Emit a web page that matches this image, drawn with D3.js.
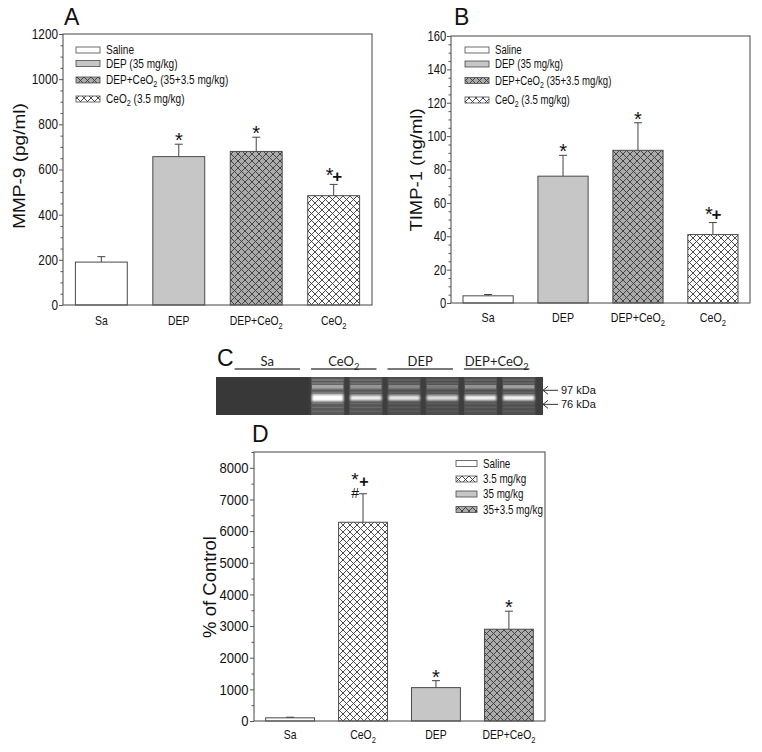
<!DOCTYPE html>
<html><head><meta charset="utf-8">
<script src="https://cdn.jsdelivr.net/npm/d3@7"></script>
<style>body{margin:0;background:#fff} svg{display:block}</style>
</head><body><svg id="c" width="762" height="752"></svg>
<script>
// ---------- data ----------
const groupsAB = ["Sa","DEP","DEP+CeO2","CeO2"];
const mmp9 = [190, 657, 680, 484];
const mmp9Err = [24, 55, 63, 50];
const mmp9Marks = ["", "*", "*", "*+"];
const mmp9Ticks = [0,200,400,600,800,1000,1200];

const timp1 = [4.3, 76, 91.5, 41];
const timp1Err = [0.8, 12.5, 16.5, 7.2];
const timp1Marks = ["", "*", "*", "*+"];
const timp1Ticks = [0,20,40,60,80,100,120,140,160];

const groupsD = ["Sa","CeO2","DEP","DEP+CeO2"];
const pctControl = [100, 6280, 1055, 2900];
const pctErr = [20, 900, 220, 570];
const pctMarks = ["", "*+#", "*", "*"];
const pctTicks = [0,1000,2000,3000,4000,5000,6000,7000,8000];

const legendAB = ["Saline","DEP (35 mg/kg)","DEP+CeO2 (35+3.5 mg/kg)","CeO2 (3.5 mg/kg)"];
const legendABKeys = ["Sa","DEP","DEP+CeO2","CeO2"];
const legendD = ["Saline","3.5 mg/kg","35 mg/kg","35+3.5 mg/kg"];
const legendDKeys = ["Sa","CeO2","DEP","DEP+CeO2"];

// zymography gel (panel C)
const gelLanes = ["Sa-1","Sa-2","CeO2-1","CeO2-2","DEP-1","DEP-2","DEP+CeO2-1","DEP+CeO2-2"];
const gelGroups = ["Sa","CeO2","DEP","DEP+CeO2"];
const laneGlow = [0, 0, 0.55, 0.45, 0.33, 0.30, 0.36, 0.36];
const band97 = [0, 0, 0.5, 0.4, 0.35, 0.28, 0.42, 0.5];
const band76 = [0, 0, 1.0, 0.92, 0.88, 0.82, 0.95, 0.95];
const smearRows = [0.08, 0.16, 0.22, 0.32, 0.40, 0.46, 0.70, 0.80, 0.90];
const markerLabels = ["97 kDa","76 kDa"];
const markerMig = [0.35, 0.72];

// ---------- drawing ----------
const svg = d3.select("#c");
const FONT = "'Liberation Sans',Arial,sans-serif";
const defs = svg.append("defs");
function hatch(id, bg){
  const p = defs.append("pattern").attr("id", id).attr("patternUnits","userSpaceOnUse")
    .attr("width", 7).attr("height", 7);
  p.append("rect").attr("width",7).attr("height",7).attr("fill",bg);
  p.append("path").attr("d","M0,0L7,7M-1,6L1,8M6,-1L8,1M0,7L7,0M-1,1L1,-1M6,8L8,6")
    .attr("stroke","#3a3a3a").attr("stroke-width",0.9).attr("fill","none");
}
hatch("hWhite", "#ffffff");
hatch("hGray", "#ababab");
const fills = {"Sa":"#ffffff","DEP":"#c6c6c6","DEP+CeO2":"url(#hGray)","CeO2":"url(#hWhite)"};
defs.append("filter").attr("id","blur").attr("x","-20%").attr("y","-200%").attr("width","140%").attr("height","500%")
  .append("feGaussianBlur").attr("stdDeviation",0.9);
defs.append("filter").attr("id","blur2").attr("x","-20%").attr("y","-200%").attr("width","140%").attr("height","500%")
  .append("feGaussianBlur").attr("stdDeviation",0.5);

function rich(t, s, fs){
  t.text(null);
  const parts = s.split("O2");
  parts.forEach((p,i)=>{
    if(i>0){
      t.append("tspan").text("O");
      t.append("tspan").attr("font-size", fs*0.72).attr("dy", fs*0.28).text("2");
      if(p.length) t.append("tspan").attr("dy", -fs*0.28).text(p);
    } else if(p.length){
      t.append("tspan").text(p);
    }
  });
}
// squeezed text (the figure panels are compressed horizontally)
function stext(parent, x, y, str, fs, sx, anchor, family){
  const g = parent.append("g").attr("transform",`translate(${x},${y}) scale(${sx},1)`);
  const t = g.append("text").attr("x",0).attr("y",0).attr("text-anchor",anchor||"start")
    .attr("font-family",family||FONT).attr("font-size",fs).attr("fill","#111");
  rich(t, str, fs);
  return t;
}

function panel(o){
  const g = svg.append("g");
  const x = d3.scaleBand().domain(o.groups).range([o.x0, o.x1]).paddingInner(0.33).paddingOuter(0.16);
  const y = d3.scaleLinear().domain([0, o.ymax]).range([o.y1, o.y0]);
  const minor = d3.range(0, o.ymax + 1e-9, o.minor).filter(v => !o.ticks.includes(v));
  g.append("g").attr("transform",`translate(${o.x0},0)`)
    .call(d3.axisLeft(y).tickValues(minor).tickSize(2.5).tickFormat(""))
    .call(a=>{a.select(".domain").remove(); a.selectAll("text").remove(); a.selectAll("line").attr("stroke","#555");});
  g.append("g").attr("transform",`translate(${o.x0},0)`)
    .call(d3.axisLeft(y).tickValues(o.ticks).tickSize(4).tickPadding(2).tickFormat(d3.format("d")))
    .call(a=>{a.select(".domain").remove(); a.selectAll("line").attr("stroke","#555");
      a.selectAll("text").attr("font-family",FONT).attr("font-size",o.tickFs).attr("fill","#111")
        .attr("transform",`scale(${o.tickSx},1)`);});
  // bars
  g.selectAll("rect.bar").data(o.groups).join("rect").attr("class","bar")
    .attr("x", d=>x(d)).attr("width", x.bandwidth())
    .attr("y", (d,i)=>y(o.values[i])).attr("height",(d,i)=>y(0)-y(o.values[i]))
    .attr("fill", d=>fills[d]).attr("stroke","#4a4a4a").attr("stroke-width",1);
  // error bars + significance marks
  o.groups.forEach((d,i)=>{
    const cx = x(d) + x.bandwidth()/2;
    const top = y(o.values[i] + o.errs[i]);
    g.append("line").attr("x1",cx).attr("x2",cx).attr("y1",y(o.values[i])).attr("y2",top)
      .attr("stroke","#444").attr("stroke-width",1);
    g.append("line").attr("x1",cx-4).attr("x2",cx+4).attr("y1",top).attr("y2",top)
      .attr("stroke","#444").attr("stroke-width",1);
    const m = o.marks[i];
    const addT = (txt, dx, dy, fs, w) => g.append("text").attr("x",cx+dx).attr("y",top+dy)
      .attr("text-anchor","middle").attr("font-family",FONT).attr("font-size",fs)
      .attr("font-weight",w||"normal").attr("fill","#111").text(txt);
    if(m === "*") addT("*", 0, 3, 20);
    else if(m === "*+"){ addT("*", -4, -2, 20); addT("+", 3.5, -2.5, 17, "bold"); }
    else if(m === "*+#"){ addT("*", -8, -8, 19); addT("+", 1, -7, 16, "bold"); addT("#", -8, 4.5, 14); }
  });
  // frame
  g.append("rect").attr("x",o.x0).attr("y",o.y0).attr("width",o.x1-o.x0).attr("height",o.y1-o.y0)
    .attr("fill","none").attr("stroke","#555").attr("stroke-width",1.1);
  // x labels
  o.groups.forEach(d=>{
    stext(g, x(d)+x.bandwidth()/2, o.y1 + o.xlabDy, d, o.xFs, o.xSx, "middle");
  });
  // y title
  g.append("text").attr("transform",`translate(${o.titleX},${o.titleY}) scale(${o.titleSx},1) rotate(-90)`)
    .attr("text-anchor","middle").attr("font-family",FONT).attr("font-size",o.titleFs).attr("fill","#111")
    .text(o.title);
  // letter
  g.append("text").attr("x",o.letterX).attr("y",o.letterY).attr("font-family",FONT)
    .attr("font-size",23).attr("fill","#111").text(o.letter);
  // legend
  o.legend.forEach((lab,i)=>{
    const ly = o.legY[i];
    g.append("rect").attr("x",o.legX).attr("y",ly-3).attr("width",o.legW).attr("height",6)
      .attr("fill",fills[o.legKeys[i]]).attr("stroke","#4a4a4a").attr("stroke-width",0.8);
    stext(g, o.legX+o.legW+6, ly+4, lab, o.legFs, o.legSx, "start");
  });
}

panel({groups:groupsAB, values:mmp9, errs:mmp9Err, marks:mmp9Marks, ticks:mmp9Ticks, ymax:1200, minor:50,
  x0:63, x1:372, y0:34, y1:305, tickFs:14, tickSx:0.84, xFs:13, xSx:0.8, xlabDy:20,
  title:"MMP-9 (pg/ml)", titleX:25, titleY:166, titleFs:19, titleSx:0.85, letter:"A", letterX:64, letterY:25,
  legend:legendAB, legKeys:legendABKeys, legX:76, legW:24, legY:[50,63.5,80,99], legFs:12, legSx:0.84});

panel({groups:groupsAB, values:timp1, errs:timp1Err, marks:timp1Marks, ticks:timp1Ticks, ymax:160, minor:5,
  x0:451, x1:750, y0:36, y1:303, tickFs:14, tickSx:0.8, xFs:13, xSx:0.82, xlabDy:19,
  title:"TIMP-1 (ng/ml)", titleX:422, titleY:170, titleFs:18.5, titleSx:0.85, letter:"B", letterX:454, letterY:25,
  legend:legendAB, legKeys:legendABKeys, legX:465, legW:24, legY:[50,64,80.5,100], legFs:12, legSx:0.8});

panel({groups:groupsD, values:pctControl, errs:pctErr, marks:pctMarks, ticks:pctTicks, ymax:8500, minor:500,
  x0:254, x1:545, y0:452, y1:721, tickFs:14.5, tickSx:0.9, xFs:13, xSx:0.8, xlabDy:18,
  title:"% of Control", titleX:216, titleY:587, titleFs:18.5, titleSx:1.0, letter:"D", letterX:252, letterY:442,
  legend:legendD, legKeys:legendDKeys, legX:456, legW:21, legY:[463.5,479,494,509.5], legFs:12, legSx:0.82});

// ---------- panel C: gel ----------
(function(){
  const g = svg.append("g");
  const gx0 = 216, gx1 = 543, gy0 = 377, gy1 = 415;
  const xl = d3.scaleBand().domain(gelLanes).range([230, 540]).paddingInner(0.13).paddingOuter(0.12);
  const ym = d3.scaleLinear().domain([0,1]).range([gy0, gy1]);
  g.append("rect").attr("x",gx0).attr("y",gy0).attr("width",gx1-gx0).attr("height",gy1-gy0).attr("fill","#3e3e3e");
  g.append("rect").attr("x",gx0).attr("y",gy0).attr("width",xl("CeO2-1")-gx0-2).attr("height",gy1-gy0).attr("fill","#383838");
  gelLanes.forEach((ln,i)=>{
    if(laneGlow[i] <= 0) return;
    const lx = xl(ln), w = xl.bandwidth();
    g.append("rect").attr("x",lx).attr("y",gy0).attr("width",w).attr("height",gy1-gy0)
      .attr("fill","#fff").attr("opacity",laneGlow[i]*0.26);
    smearRows.forEach((m,k)=>{
      g.append("rect").attr("x",lx+1).attr("y",ym(m)-0.7).attr("width",w-2).attr("height",1.4)
        .attr("fill","#fff").attr("opacity",laneGlow[i]*(0.45 - 0.03*k)).attr("filter","url(#blur2)");
    });
    g.append("rect").attr("x",lx+1).attr("y",ym(0.26)-1.6).attr("width",w-2).attr("height",3.2)
      .attr("fill","#fff").attr("opacity",band97[i]*0.9).attr("filter","url(#blur2)");
    const th = i === 2 ? 7 : 5;
    g.append("rect").attr("x",lx+1).attr("y",ym(0.55)-th/2).attr("width",w-2).attr("height",th)
      .attr("fill","#fff").attr("opacity",band76[i]).attr("filter","url(#blur)");
  });
  gelGroups.forEach((gr,k)=>{
    const a = xl(gelLanes[2*k]), b = xl(gelLanes[2*k+1]) + xl.bandwidth();
    g.append("line").attr("x1",a).attr("x2",b-6).attr("y1",369).attr("y2",369)
      .attr("stroke","#7a7a7a").attr("stroke-width",2);
    const t = g.append("text").attr("x",(a+b)/2-3).attr("y",366).attr("text-anchor","middle")
      .attr("font-family","Lato,'Open Sans',sans-serif").attr("font-size",13).attr("fill","#222");
    rich(t, gr, 13);
  });
  g.append("text").attr("x",217).attr("y",366).attr("font-family",FONT).attr("font-size",23).attr("fill","#111").text("C");
  markerLabels.forEach((lab,k)=>{
    const yy = ym(markerMig[k]);
    g.append("path").attr("d",`M558,${yy}H543M548,${yy-4}L543,${yy}L548,${yy+4}`)
      .attr("stroke","#333").attr("stroke-width",1).attr("fill","none");
    g.append("text").attr("x",561).attr("y",yy+4).attr("font-family",FONT).attr("font-size",11)
      .attr("fill","#111").text(lab);
  });
})();
</script></body></html>
